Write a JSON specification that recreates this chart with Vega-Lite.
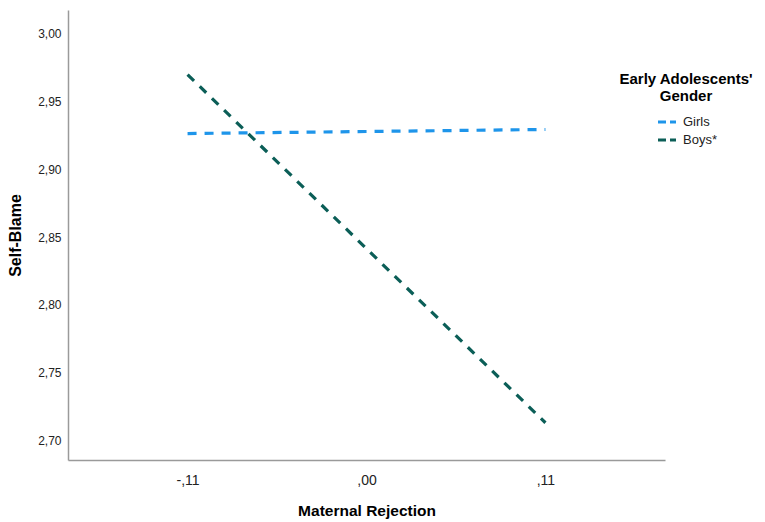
{
  "$schema": "https://vega.github.io/schema/vega-lite/v6.json",
  "width": 597,
  "height": 450,
  "autosize": {"type": "none"},
  "padding": {"left": 68, "top": 10, "right": 100, "bottom": 62},
  "background": "white",
  "config": {
    "view": {"stroke": null},
    "font": "Liberation Sans"
  },
  "data": {
    "values": [
      {"x": -0.11, "y": 2.9265, "g": "Girls"},
      {"x": 0.11, "y": 2.9295, "g": "Girls"},
      {"x": -0.11, "y": 2.970, "g": "Boys*"},
      {"x": 0.11, "y": 2.713, "g": "Boys*"}
    ]
  },
  "mark": {"type": "line", "strokeWidth": 3.2, "strokeDash": [9, 8]},
  "encoding": {
    "x": {
      "field": "x", "type": "quantitative",
      "scale": {"domain": [-0.1835, 0.1835], "nice": false, "zero": false},
      "axis": {
        "values": [-0.11, 0, 0.11],
        "labelExpr": "datum.value < 0 ? '-,' + format(-datum.value*100, '02d') : ',' + format(datum.value*100, '02d')",
        "title": "Maternal Rejection",
        "titleFontSize": 15.5, "titleFontWeight": "bold", "titleColor": "#000",
        "titlePadding": 16,
        "labelFontSize": 14, "labelColor": "#222", "labelPadding": 13,
        "ticks": false, "grid": false,
        "domainColor": "#9a9a9a", "domainWidth": 1.5
      }
    },
    "y": {
      "field": "y", "type": "quantitative",
      "scale": {"domain": [2.6855, 3.0177], "nice": false, "zero": false},
      "axis": {
        "values": [2.70, 2.75, 2.80, 2.85, 2.90, 2.95, 3.00],
        "labelExpr": "replace(format(datum.value, '.2f'), '.', ',')",
        "title": "Self-Blame",
        "titleFontSize": 16, "titleFontWeight": "bold", "titleColor": "#000",
        "titlePadding": 14,
        "labelFontSize": 12, "labelColor": "#222", "labelPadding": 7,
        "ticks": false, "grid": false,
        "domainColor": "#9a9a9a", "domainWidth": 1.5
      }
    },
    "color": {
      "field": "g", "type": "nominal",
      "sort": ["Girls", "Boys*"],
      "scale": {"domain": ["Girls", "Boys*"], "range": ["#1e95ea", "#0b5e57"]},
      "legend": {
        "title": ["Early Adolescents'", "Gender"],
        "titleFontSize": 15, "titleFontWeight": "bold", "titleColor": "#000",
        "titleAlign": "center", "titleAnchor": "middle",
        "titlePadding": 7,
        "labelFontSize": 13, "labelColor": "#222", "labelOffset": 5,
        "symbolType": "stroke", "symbolSize": 324,
        "symbolStrokeWidth": 3.2, "symbolDash": [8, 4],
        "orient": "none", "legendX": 551, "legendY": 62,
        "rowPadding": 0
      }
    }
  }
}
